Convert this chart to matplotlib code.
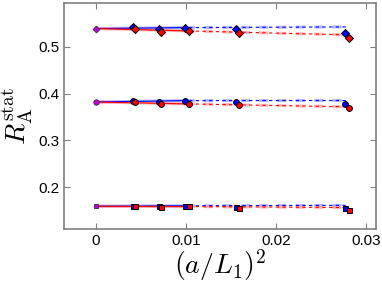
import numpy as np
import matplotlib
matplotlib.use('Agg')
import matplotlib.pyplot as plt

plt.rcParams['font.family'] = ['Liberation Sans', 'DejaVu Sans']
plt.rcParams['mathtext.fontset'] = 'cm'

# lattice spacings (a/L1)^2
x_blue = [0.0041, 0.0070, 0.0099, 0.0156, 0.0277]
x_red = [0.0044, 0.0073, 0.0104, 0.0159, 0.0281]

# three groups: diamonds (top), circles (middle), squares (bottom)
markers = ['D', 'o', 's']
msizes = [3.8, 4.2, 3.6]
y_cont = [0.539, 0.382, 0.159]
y_blue = [
    [0.542, 0.5377, 0.541, 0.538, 0.530],
    [0.385, 0.383, 0.385, 0.383, 0.378],
    [0.160, 0.159, 0.160, 0.158, 0.1555],
]
y_red = [
    [0.5377, 0.531, 0.534, 0.529, 0.5185],
    [0.381, 0.378, 0.378, 0.376, 0.3696],
    [0.159, 0.158, 0.159, 0.156, 0.1517],
]

# fit lines: values at x = 0, 0.01, 0.0279
fit_x = [0.0, 0.0100, 0.0279]
fit_blue = [
    [0.539, 0.541, 0.5425],
    [0.382, 0.385, 0.3852],
    [0.1592, 0.1602, 0.1612],
]
fit_red = [
    [0.539, 0.534, 0.5255],
    [0.382, 0.378, 0.3717],
    [0.1592, 0.1585, 0.1565],
]

fig = plt.figure(figsize=(3.82, 2.87), dpi=100)
ax = fig.add_axes([64/382, 1 - 229/287, 312/382, 226/287])

for k in range(3):
    for fit, col, light in [(fit_blue[k], 'blue', '#9999ff'), (fit_red[k], 'red', '#ff9999')]:
        # light thick copy underneath
        ax.plot(fit_x[:2], fit[:2], color=light, lw=2.2, alpha=0.7, zorder=1)
        ax.plot(fit_x[1:], fit[1:], color=light, lw=2.2, alpha=0.7, ls=(0, (3, 3)), zorder=1)
        ax.plot(fit_x[:2], fit[:2], color=col, lw=0.8, zorder=2)
        ax.plot(fit_x[1:], fit[1:], color=col, lw=0.8, ls=(3, (3, 3)), zorder=2)
    ax.plot(x_blue, y_blue[k], ls='none', marker=markers[k], ms=msizes[k],
            mfc='blue', mec='black', mew=0.7, zorder=3)
    ax.plot(x_red, y_red[k], ls='none', marker=markers[k], ms=msizes[k],
            mfc='red', mec='black', mew=0.7, zorder=3)
    ax.plot([0], [y_cont[k]], ls='none', marker=markers[k], ms=msizes[k] - 0.3,
            mfc='#c000e8', mec='#333333', mew=0.6, zorder=3)

ax.set_xlim(-0.0035, 0.0311)
ax.set_ylim(0.1106, 0.5936)
ax.set_xticks([0, 0.01, 0.02, 0.03])
ax.set_xticklabels(['0', '0.01', '0.02', '0.03'])
ax.set_yticks([0.2, 0.3, 0.4, 0.5])
ax.tick_params(direction='in', top=True, right=True, labelsize=11,
               length=4, width=0.8, color='#808080')
for s in ax.spines.values():
    s.set_color('#808080')
    s.set_linewidth(1.2)

ax.set_xlabel(r'$(a/L_1)^2$', fontsize=20, labelpad=0)
ax.set_ylabel(r'$R_{\rm A}^{\rm stat}$', fontsize=20, labelpad=2)

fig.savefig('out.png', dpi=100)
